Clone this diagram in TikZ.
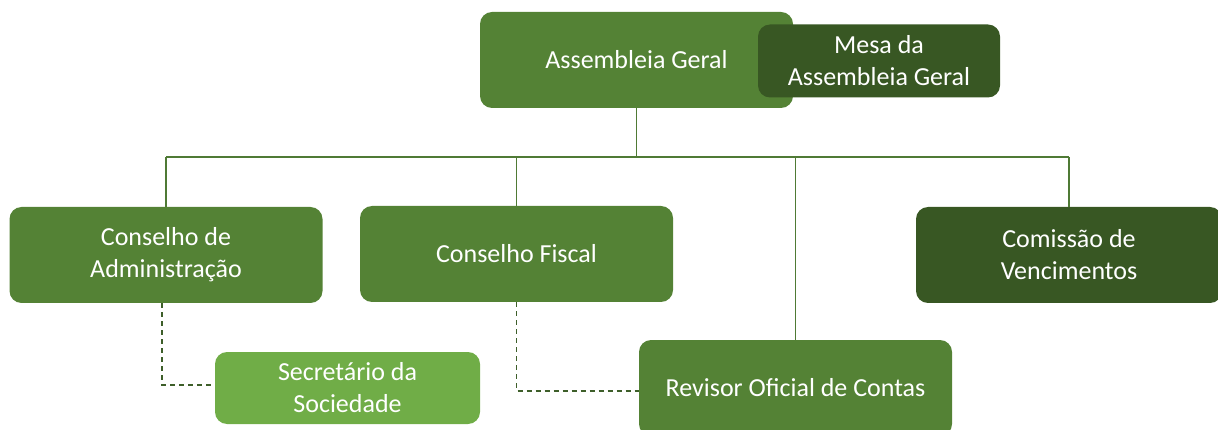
\documentclass[tikz,border=0pt]{standalone}
\usepackage{fontspec}
\setmainfont{Carlito}
\definecolor{gmain}{HTML}{548235}
\definecolor{gdark}{HTML}{385723}
\definecolor{glight}{HTML}{70AD47}
\definecolor{gline}{HTML}{4F7A35}
\definecolor{gdash}{HTML}{3E5F2A}
\begin{document}
\begin{tikzpicture}[x=1pt,y=-1pt,
  box/.style={rectangle,rounded corners=12pt,fill=gmain,text=white,align=center,
    font=\fontsize{26}{32}\selectfont,inner sep=0pt,minimum width=313pt,minimum height=96pt},
  darkbox/.style={box,fill=gdark},
  lightbox/.style={box,fill=glight},
  conn/.style={draw=gline,line width=1.5pt},
  dconn/.style={draw=gdash,line width=1.5pt,dash pattern=on 5pt off 4pt}]
\useasboundingbox (0,0) rectangle (1218,430);
\clip (0,0) rectangle (1218,430);
\coordinate (bus) at (637,157);
\node[box] (ag) at (636.5,60) {Assembleia Geral};
\node[box] (ca) at (166,255) {Conselho de\\Administração};
\node[box] (cf) at (516.5,254) {Conselho Fiscal};
\node[darkbox,minimum width=306pt] (cv) at (1069,255) {Comissão de\\Vencimentos};
\node[lightbox,minimum width=265pt,minimum height=72pt] (sd) at (347.5,388) {Secretário da\\Sociedade};
\node[box] (ro) at (795.5,388) {Revisor Oficial de Contas};
\node[darkbox,minimum width=242pt,minimum height=73pt] (mg) at (879,61) {Mesa da\\Assembleia Geral};
\draw[conn] (ag.south) -- (ag.south |- bus);
\draw[conn] (ca.north |- bus) -- (cv.north |- bus);
\draw[conn] (ca.north |- bus) -- (ca.north);
\draw[conn] (cf.north |- bus) -- (cf.north);
\draw[conn] (ro.north |- bus) -- (ro.north);
\draw[conn] (cv.north |- bus) -- (cv.north);
\draw[dconn] ([xshift=-4pt]ca.south) |- ([yshift=3pt]sd.west);
\draw[dconn] (cf.south) |- ([yshift=-3pt]ro.west);
\end{tikzpicture}
\end{document}
